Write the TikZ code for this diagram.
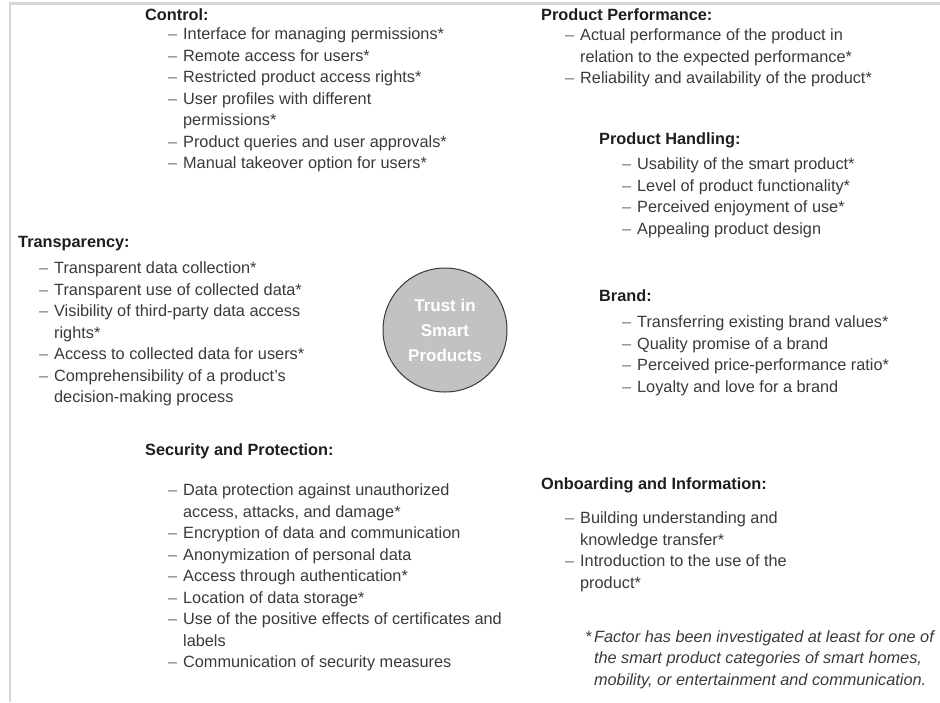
\documentclass[tikz,border=0pt]{standalone}
\usepackage{fontspec}
\setmainfont{Liberation Sans}
\usetikzlibrary{positioning}

\definecolor{rulegray}{HTML}{D6D6D6}
\definecolor{headtext}{HTML}{1E1E1E}
\definecolor{itemtext}{HTML}{3A3A3A}
\definecolor{dashgray}{HTML}{707070}
\definecolor{corefill}{HTML}{C2C2C2}
\definecolor{coreline}{HTML}{3A3A3A}

\newcommand{\li}{\textcolor{dashgray}{–}}
\newenvironment{factorlist}{\begin{tabular}{@{}l@{\hspace{5.9pt}}l@{}}}{\end{tabular}}

\begin{document}
\begin{tikzpicture}[x=1pt,y=-1pt,
    head/.style={anchor=west,inner sep=0pt,text height=12pt,text depth=4pt,
                 text=headtext,font=\fontsize{16.3}{21.5}\selectfont\bfseries},
    factors/.style={inner sep=0pt,text=itemtext,font=\fontsize{16.3}{21.5}\selectfont},
    core/.style={circle,draw=coreline,fill=corefill,line width=1pt,minimum size=124pt,
                 align=center,text=white,font=\fontsize{17}{25}\selectfont\bfseries}]

  \useasboundingbox (0,0) rectangle (940,702);
  \draw[rulegray,line width=2.5pt] (940,3.5) -- (10,3.5) -- (10,702);

  \node[core] (trust) at (445,330) {Trust in\\Smart\\Products};

  \node[head] (control) at (145,16) {Control:};
  \node[factors, below right=0.5pt and 23pt of control.south west] (controlList) {%
    \begin{factorlist}
      \li & Interface for managing permissions*\\
      \li & Remote access for users*\\
      \li & Restricted product access rights*\\
      \li & User profiles with different\\
          & permissions*\\
      \li & Product queries and user approvals*\\
      \li & Manual takeover option for users*
    \end{factorlist}};

  \node[head] (perf) at (541,16) {Product Performance:};
  \node[factors, below right=1.5pt and 24pt of perf.south west] (perfList) {%
    \begin{factorlist}
      \li & Actual performance of the product in\\
          & relation to the expected performance*\\
      \li & Reliability and availability of the product*
    \end{factorlist}};

  \node[head] (handling) at (599,140) {Product Handling:};
  \node[factors, below right=6.5pt and 23pt of handling.south west] (handlingList) {%
    \begin{factorlist}
      \li & Usability of the smart product*\\
      \li & Level of product functionality*\\
      \li & Perceived enjoyment of use*\\
      \li & Appealing product design
    \end{factorlist}};

  \node[head] (transp) at (18,243) {Transparency:};
  \node[factors, below right=7.5pt and 21pt of transp.south west] (transpList) {%
    \begin{factorlist}
      \li & Transparent data collection*\\
      \li & Transparent use of collected data*\\
      \li & Visibility of third-party data access\\
          & rights*\\
      \li & Access to collected data for users*\\
      \li & Comprehensibility of a product’s\\
          & decision-making process
    \end{factorlist}};

  \node[head] (brand) at (599,297) {Brand:};
  \node[factors, below right=7.5pt and 23pt of brand.south west] (brandList) {%
    \begin{factorlist}
      \li & Transferring existing brand values*\\
      \li & Quality promise of a brand\\
      \li & Perceived price-performance ratio*\\
      \li & Loyalty and love for a brand
    \end{factorlist}};

  \node[head] (security) at (145,451) {Security and Protection:};
  \node[factors, below right=21.5pt and 23pt of security.south west] (securityList) {%
    \begin{factorlist}
      \li & Data protection against unauthorized\\
          & access, attacks, and damage*\\
      \li & Encryption of data and communication\\
      \li & Anonymization of personal data\\
      \li & Access through authentication*\\
      \li & Location of data storage*\\
      \li & Use of the positive effects of certificates and\\
          & labels\\
      \li & Communication of security measures
    \end{factorlist}};

  \node[head] (onboard) at (541,485) {Onboarding and Information:};
  \node[factors, below right=15.5pt and 24pt of onboard.south west] (onboardList) {%
    \begin{factorlist}
      \li & Building understanding and\\
          & knowledge transfer*\\
      \li & Introduction to the use of the\\
          & product*
    \end{factorlist}};

  \node[factors, anchor=north west, font=\fontsize{16.3}{21.5}\selectfont\itshape]
    (note) at (585,627) {%
    \begin{tabular}{@{}l@{\hspace{2.5pt}}l@{}}
      * & Factor has been investigated at least for one of\\
        & the smart product categories of smart homes,\\
        & mobility, or entertainment and communication.
    \end{tabular}};
\end{tikzpicture}
\end{document}
